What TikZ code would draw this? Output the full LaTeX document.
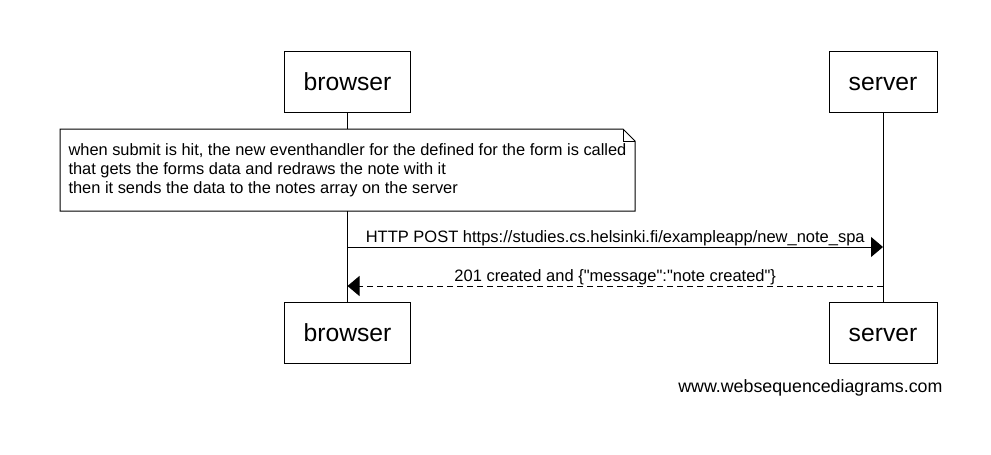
\documentclass[tikz,border=0pt]{standalone}
\usepackage{fontspec}
\setmainfont{Liberation Sans}[Ligatures=TeXOff]
\usetikzlibrary{arrows.meta}

\begin{document}
\begin{tikzpicture}[x=1pt, y=-1pt, line width=1pt,
    actor/.style={draw, minimum width=126pt, minimum height=61pt, font=\fontsize{24.7}{28}\selectfont,
                  inner sep=0pt, text height=18pt, text depth=0pt},
    msg/.style={-{Triangle[length=12pt,width=20pt]}},
    reply/.style={dash pattern=on 6pt off 4pt, -{Triangle[length=12pt,width=20pt]}},
    msglabel/.style={font=\fontsize{16.5}{19}\selectfont, above, inner sep=1pt}]
    % Define the canvas
    \useasboundingbox (0,0) rectangle (991,455);

    % Actors on top and bottom
    \node[actor] (browserTop) at (347.5,81.5) {browser};
    \node[actor, minimum width=108pt] (serverTop) at (883,81.5) {server};
    \node[actor] (browserBot) at (347.5,332.5) {browser};
    \node[actor, minimum width=108pt] (serverBot) at (883,332.5) {server};

    % Note with folded corner
    \node[anchor=north west, minimum width=574pt, minimum height=81pt, align=left,
          font=\fontsize{16.4}{19}\selectfont, inner xsep=6pt, inner ysep=7pt] (note) at (60,129)
        {when submit is hit, the new eventhandler for the defined for the form is called\\
         that gets the forms data and redraws the note with it\\
         then it sends the data to the notes array on the server};
    \draw (note.north west) -- ([xshift=-12pt]note.north east) -- ([yshift=-12pt]note.north east)
        -- (note.south east) -- (note.south west) -- cycle;
    \draw[line width=0.8pt] ([xshift=-12pt]note.north east) |- ([yshift=-12pt]note.north east);

    % Lifelines
    \draw (browserTop) -- (browserTop |- note.north);
    \draw (browserTop |- note.south) -- (browserBot);
    \draw (serverTop) -- (serverBot);

    % Messages
    \coordinate (postB) at (347.5,247);
    \coordinate (postS) at (883,247);
    \coordinate (respS) at (883,286);
    \coordinate (respB) at (347.5,286);
    \draw[msg] (postB) -- node[msglabel] {HTTP POST https://studies.cs.helsinki.fi/exampleapp/new\_note\_spa} (postS);
    \draw[reply] (respS) -- node[msglabel] {201 created and \{"message":"note created"\}} (respB);

    % Watermark
    \node[anchor=east, font=\fontsize{17.8}{20}\selectfont, inner sep=0pt] (mark) at (943,388) {www.websequencediagrams.com};
\end{tikzpicture}
\end{document}
